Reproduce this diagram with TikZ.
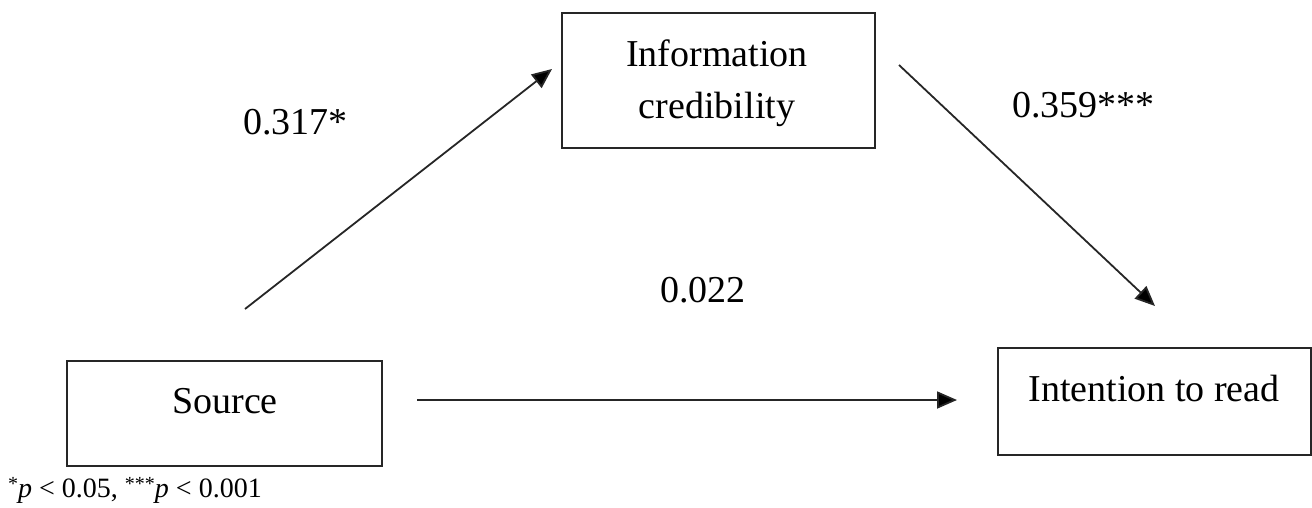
\documentclass[tikz,border=0pt]{standalone}
\usepackage{fontspec}
\setmainfont{Liberation Serif}
\usetikzlibrary{arrows.meta}

\tikzset{
  box/.style={draw=black!85, line width=1.6pt, rectangle, inner sep=0pt},
  boxtext/.style={font=\fontsize{38}{52}\selectfont, anchor=base, inner sep=0pt},
  coef/.style={font=\fontsize{38}{46}\selectfont, anchor=base west, inner sep=0pt},
  path/.style={line width=1.8pt, draw=black!85, -{Triangle[length=20pt,width=17pt,fill=black]}},
  note/.style={font=\fontsize{28}{32}\selectfont, anchor=base west, inner sep=0pt}
}

\begin{document}
\begin{tikzpicture}[x=1pt, y=-1pt]
  \useasboundingbox (0,0) rectangle (1312,507);

  % variable boxes
  \node[box, minimum width=313pt, minimum height=135pt] (cred) at (718.5,80.5) {};
  \node[box, minimum width=315pt, minimum height=105pt] (src) at (224.5,413.5) {};
  \node[box, minimum width=313pt, minimum height=107pt] (intent) at (1154.5,401.5) {};

  % box labels
  \node[boxtext] (credA) at (717,66) {Information};
  \node[boxtext] (credB) at (717,118) {credibility};
  \node[boxtext] (srcT) at (225,413) {Source};
  \node[boxtext] (intentT) at (1154,401) {Intention to read};

  % path endpoints
  \coordinate (a1) at (245,309);
  \coordinate (a2) at (552,69);
  \coordinate (b1) at (899,65);
  \coordinate (b2) at (1155,306);
  \coordinate (c1) at (417,400);
  \coordinate (c2) at (957,400);

  \draw[path] (a1) -- (a2);
  \draw[path] (b1) -- (b2);
  \draw[path] (c1) -- (c2);

  % path coefficients
  \node[coef] (ka) at (243,134) {0.317*};
  \node[coef] (kb) at (1012,117) {0.359***};
  \node[coef] (kc) at (660,302) {0.022};

  % significance note
  \node[note] (fn) at (8,497) {\raisebox{0.25em}{\fontsize{20}{20}\selectfont *}\textit{p} < 0.05, \raisebox{0.25em}{\fontsize{20}{20}\selectfont ***}\textit{p} < 0.001};
\end{tikzpicture}
\end{document}
